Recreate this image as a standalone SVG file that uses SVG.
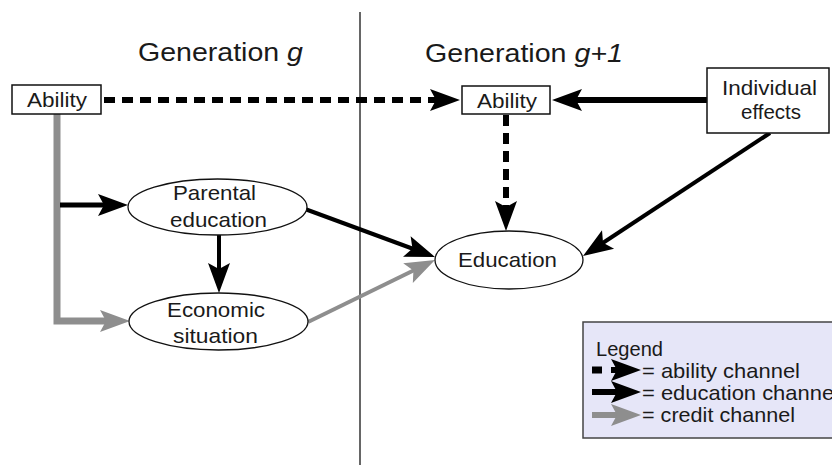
<svg xmlns="http://www.w3.org/2000/svg" width="832" height="465" viewBox="0 0 832 465">
<style>
text{font-family:"Liberation Sans",Arial,sans-serif;fill:#1a1a1a;font-size:21px}
.title{font-size:25px}
.box{fill:#fff;stroke:#111;stroke-width:1.5}
.ell{fill:#fff;stroke:#111;stroke-width:1.3}
.blk{stroke:#000;fill:none}
.gry{stroke:#8e8e8e;fill:none}
</style>
<defs>
<marker id="hb" markerUnits="userSpaceOnUse" markerWidth="40" markerHeight="40" refX="0" refY="0" orient="auto" overflow="visible">
<path d="M20,0 L-10,-11 L-4,0 L-10,11 Z" fill="#000"/>
</marker>
<marker id="hg" markerUnits="userSpaceOnUse" markerWidth="40" markerHeight="40" refX="0" refY="0" orient="auto" overflow="visible">
<path d="M20,0 L-10,-11 L-4,0 L-10,11 Z" fill="#8e8e8e"/>
</marker>
</defs>
<rect width="832" height="465" fill="#fff"/>
<line x1="360" y1="12" x2="360" y2="465" stroke="#333" stroke-width="1.5"/>
<g id="titles">
<text class="title" x="138" y="61" textLength="165" lengthAdjust="spacingAndGlyphs">Generation <tspan font-style="italic">g</tspan></text>
<text class="title" x="425" y="62" textLength="198" lengthAdjust="spacingAndGlyphs">Generation <tspan font-style="italic">g+1</tspan></text>
</g>
<g id="connectors">
<line class="blk" x1="104" y1="100" x2="440" y2="100" stroke-width="6" stroke-dasharray="11 7" marker-end="url(#hb)"/>
<line class="blk" x1="707" y1="100" x2="572" y2="100" stroke-width="6" marker-end="url(#hb)"/>
<line class="blk" x1="506" y1="115" x2="506" y2="211" stroke-width="6" stroke-dasharray="11 7" marker-end="url(#hb)"/>
<line class="blk" x1="770" y1="133" x2="599.7" y2="245" stroke-width="4" marker-end="url(#hb)"/>
<line class="blk" x1="305" y1="209" x2="416.2" y2="250" stroke-width="4" marker-end="url(#hb)"/>
<line class="gry" x1="308" y1="322" x2="417" y2="268.8" stroke-width="4" marker-end="url(#hg)"/>
<path class="gry" d="M57,114 V321 H110" stroke-width="7" marker-end="url(#hg)"/>
<line class="blk" x1="60" y1="205" x2="108" y2="205" stroke-width="5" marker-end="url(#hb)"/>
<line class="blk" x1="219" y1="235" x2="219" y2="273" stroke-width="4" marker-end="url(#hb)"/>
</g>
<g id="ability-g">
<rect class="box" x="12" y="85" width="89" height="29"/>
<text x="27" y="107" textLength="60" lengthAdjust="spacingAndGlyphs">Ability</text>
</g>
<g id="ability-g1">
<rect class="box" x="462" y="86" width="88" height="28"/>
<text x="477" y="108" textLength="60" lengthAdjust="spacingAndGlyphs">Ability</text>
</g>
<g id="individual-effects">
<rect class="box" x="707" y="68" width="122" height="65"/>
<text x="722" y="95" textLength="95" lengthAdjust="spacingAndGlyphs">Individual</text>
<text x="741" y="119" textLength="60" lengthAdjust="spacingAndGlyphs">effects</text>
</g>
<g id="parental-education">
<ellipse class="ell" cx="217.5" cy="207" rx="89.5" ry="28"/>
<text x="173" y="200" textLength="83" lengthAdjust="spacingAndGlyphs">Parental</text>
<text x="170" y="227" textLength="97" lengthAdjust="spacingAndGlyphs">education</text>
</g>
<g id="economic-situation">
<ellipse class="ell" cx="218.5" cy="321.5" rx="89.5" ry="28.5"/>
<text x="167" y="317" textLength="98" lengthAdjust="spacingAndGlyphs">Economic</text>
<text x="173" y="343" textLength="85" lengthAdjust="spacingAndGlyphs">situation</text>
</g>
<g id="education">
<ellipse class="ell" cx="509" cy="260" rx="74" ry="29"/>
<text x="458" y="267" textLength="99" lengthAdjust="spacingAndGlyphs">Education</text>
</g>
<g id="legend">
<rect x="583" y="322" width="260" height="116" fill="#e6e6f8" stroke="#444" stroke-width="1.5"/>
<text x="596" y="356" textLength="67" lengthAdjust="spacingAndGlyphs">Legend</text>
<line class="blk" x1="592" y1="370" x2="602" y2="370" stroke-width="7"/>
<line class="blk" x1="611" y1="370" x2="621" y2="370" stroke-width="6" marker-end="url(#hb)"/>
<line class="blk" x1="592" y1="392" x2="621" y2="392" stroke-width="6" marker-end="url(#hb)"/>
<line class="gry" x1="592" y1="415" x2="621" y2="415" stroke-width="6" marker-end="url(#hg)"/>
<text x="642" y="378" textLength="158" lengthAdjust="spacingAndGlyphs">= ability channel</text>
<text x="642" y="400" textLength="197" lengthAdjust="spacingAndGlyphs">= education channel</text>
<text x="642" y="422" textLength="153" lengthAdjust="spacingAndGlyphs">= credit channel</text>
</g>
</svg>
